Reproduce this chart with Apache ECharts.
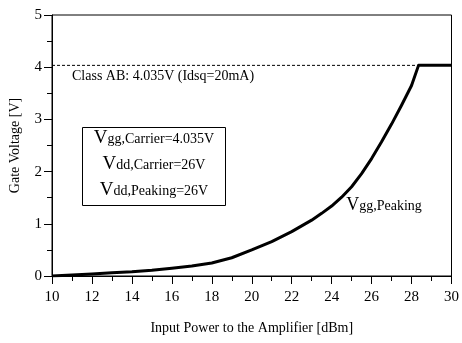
<!DOCTYPE html>
<html><head><meta charset="utf-8">
<script src="https://cdn.jsdelivr.net/npm/echarts@6/dist/echarts.min.js"></script>
<style>html,body{margin:0;padding:0;background:#fff}#c{width:462px;height:343px}</style>
</head><body><div id="c"></div>
<script>
var inputPower = [10,11,12,13,14,15,16,17,18,19,20,21,22,23,23.5,24,24.5,25,25.5,26,26.5,27,27.5,28,28.35,29,30];
var vggPeaking = [0,0.02,0.04,0.06,0.08,0.11,0.15,0.19,0.25,0.35,0.5,0.66,0.85,1.07,1.2,1.34,1.51,1.71,1.96,2.25,2.57,2.91,3.27,3.65,4.035,4.035,4.035];
var classABX = [10,30];
var classABY = [4.035,4.035];
var xTicks = [10,30,2];
var yTicks = [0,5,1];

var serif = '"Liberation Serif","DejaVu Serif",serif';
function pairs(xs, ys){return xs.map(function(x,i){return [x, ys[i]];});}

var chart = echarts.init(document.getElementById('c'));
function sub(t, big, small){
  return {text:t,align:'center',verticalAlign:'middle',
    rich:{v:{font:big+'px '+serif,fill:'#000',verticalAlign:'bottom'},s:{font:small+'px '+serif,fill:'#000',verticalAlign:'bottom',padding:[0,0,1,0]}}};
}
chart.setOption({
  animation:false,
  grid:{left:52,right:10,top:15,bottom:67,show:true,borderColor:'#000',borderWidth:1,backgroundColor:'transparent'},
  xAxis:{type:'value',min:xTicks[0],max:xTicks[1],interval:xTicks[2],
    name:'Input Power to the Amplifier [dBm]',nameLocation:'middle',nameGap:45,
    nameTextStyle:{fontFamily:serif,fontSize:14,color:'#000'},
    axisLine:{onZero:false,lineStyle:{color:'#000',width:1}},
    axisTick:{show:true,length:8,lineStyle:{color:'#000'}},
    minorTick:{show:true,splitNumber:2,length:5,lineStyle:{color:'#000'}},
    axisLabel:{fontFamily:serif,fontSize:15,color:'#000',margin:14},
    splitLine:{show:false}},
  yAxis:{type:'value',min:yTicks[0],max:yTicks[1],interval:yTicks[2],
    name:'Gate Voltage [V]',nameLocation:'middle',nameGap:30,
    nameTextStyle:{fontFamily:serif,fontSize:14,color:'#000'},
    axisLine:{show:true,lineStyle:{color:'#000',width:1}},
    axisTick:{show:true,length:8,lineStyle:{color:'#000'}},
    minorTick:{show:true,splitNumber:2,length:5,lineStyle:{color:'#000'}},
    axisLabel:{fontFamily:serif,fontSize:15,color:'#000',margin:10},
    splitLine:{show:false}},
  series:[
    {type:'line',data:pairs(classABX,classABY),symbol:'none',silent:true,
     lineStyle:{color:'#000',width:1,type:[3,2]},z:1},
    {type:'line',data:pairs(inputPower,vggPeaking),symbol:'none',smooth:false,
     lineStyle:{color:'#000',width:3,join:'round'},z:2}
  ],
  graphic:[
    {type:'text',left:72,top:69,style:{text:'Class AB: 4.035V (Idsq=20mA)',font:'14px '+serif,fill:'#000'}},
    {type:'rect',shape:{x:82.5,y:127.5,width:143,height:78},style:{fill:'#fff',stroke:'#000',lineWidth:1},z:10},
    {type:'text',z:11,x:154,y:138,style:sub('{v|V}{s|gg,Carrier=4.035V}',19,14)},
    {type:'text',z:11,x:154,y:164,style:sub('{v|V}{s|dd,Carrier=26V}',19,14)},
    {type:'text',z:11,x:154,y:190,style:sub('{v|V}{s|dd,Peaking=26V}',19,14)},
    {type:'text',z:11,x:384,y:205,style:sub('{v|V}{s|gg,Peaking}',18,14)}
  ]
});
</script></body></html>
